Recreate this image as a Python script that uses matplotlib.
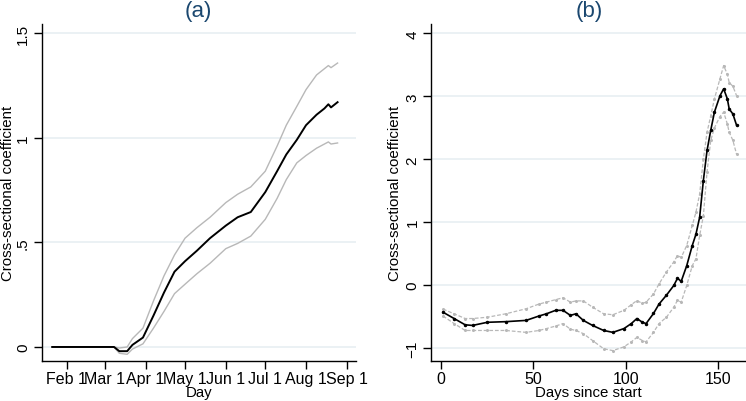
import numpy as np
import matplotlib.pyplot as plt
import pandas as pd

plt.rcParams['font.family'] = ['Liberation Sans', 'DejaVu Sans']

# Panel (a): coefficient by calendar day (2020)
dates_a = ['2020-01-21', '2020-03-08', '2020-03-12', '2020-03-18', '2020-03-22',
           '2020-03-30', '2020-04-07', '2020-04-15', '2020-04-23', '2020-05-01',
           '2020-05-10', '2020-05-20', '2020-06-01', '2020-06-10', '2020-06-20',
           '2020-07-01', '2020-07-10', '2020-07-17', '2020-07-25', '2020-08-01',
           '2020-08-09', '2020-08-15', '2020-08-18', '2020-08-20', '2020-08-25']
coef_a = [0, 0, -0.02, -0.02, 0.01, 0.045, 0.15, 0.26, 0.36, 0.41,
          0.46, 0.52, 0.58, 0.62, 0.645, 0.74, 0.84, 0.92, 0.99, 1.06,
          1.11, 1.14, 1.16, 1.145, 1.17]
upper_a = [0, 0, -0.005, 0.0, 0.04, 0.09, 0.22, 0.34, 0.44, 0.52,
           0.57, 0.62, 0.69, 0.73, 0.765, 0.84, 0.96, 1.06, 1.15, 1.23,
           1.30, 1.33, 1.345, 1.335, 1.357]
lower_a = [0, 0, -0.03, -0.035, -0.01, 0.015, 0.09, 0.17, 0.255, 0.30,
           0.35, 0.40, 0.47, 0.495, 0.53, 0.61, 0.71, 0.80, 0.88, 0.915,
           0.95, 0.97, 0.98, 0.97, 0.975]
tick_dates_a = ['2020-02-01', '2020-03-01', '2020-04-01', '2020-05-01',
                '2020-06-01', '2020-07-01', '2020-08-01', '2020-09-01']
tick_labels_a = ['Feb 1', 'Mar 1', 'Apr 1', 'May 1', 'Jun 1', 'Jul 1', 'Aug 1', 'Sep 1']
yticks_a = [0, 0.5, 1, 1.5]
ylabels_a = ['0', '.5', '1', '1.5']

# Panel (b): coefficient by days since start
days_b = [1, 7, 13, 17, 25, 35, 46, 53, 57, 62, 66, 70, 73, 77, 82, 88, 93, 99,
          103, 106, 109, 111, 115, 118, 122, 126, 128, 130, 133, 136, 138, 140,
          142, 144, 146, 148, 151, 153, 155, 156, 158, 160]
coef_b = [-0.43, -0.53, -0.63, -0.64, -0.59, -0.58, -0.56, -0.49, -0.455, -0.40,
          -0.40, -0.48, -0.455, -0.56, -0.64, -0.72, -0.75, -0.69, -0.61, -0.53,
          -0.59, -0.61, -0.45, -0.30, -0.16, -0.005, 0.11, 0.06, 0.31, 0.63,
          0.81, 1.08, 1.66, 2.14, 2.46, 2.75, 3.01, 3.12, 2.96, 2.80, 2.72, 2.54]
upper_b = [-0.38, -0.455, -0.53, -0.53, -0.51, -0.455, -0.375, -0.30, -0.27, -0.23,
           -0.20, -0.27, -0.25, -0.25, -0.35, -0.455, -0.47, -0.40, -0.31, -0.245,
           -0.29, -0.27, -0.14, 0.02, 0.21, 0.37, 0.47, 0.44, 0.63, 0.95,
           1.16, 1.45, 2.0, 2.43, 2.69, 2.96, 3.28, 3.49, 3.35, 3.22, 3.16, 3.01]
lower_b = [-0.49, -0.61, -0.72, -0.72, -0.72, -0.72, -0.75, -0.72, -0.69, -0.65,
           -0.61, -0.70, -0.72, -0.77, -0.88, -1.01, -1.04, -0.98, -0.90, -0.83,
           -0.88, -0.90, -0.75, -0.61, -0.51, -0.35, -0.24, -0.27, -0.005, 0.31,
           0.42, 0.79, 1.1, 1.8, 2.3, 2.5, 2.68, 2.75, 2.56, 2.43, 2.30, 2.08]
xticks_b = [0, 50, 100, 150]
yticks_b = [-1, 0, 1, 2, 3, 4]

TITLE_COLOR = '#1a476f'
GRID_COLOR = '#e6eef1'
BAND_COLOR = '#b8b8b8'
XTICK_FS = 11.5
YTICK_FS = 11
LABEL_FS = 10.8


def style_axes(ax, ylabel_x):
    for side in ['top', 'right']:
        ax.spines[side].set_visible(False)
    for side in ['left', 'bottom']:
        ax.spines[side].set_linewidth(1.0)
        ax.spines[side].set_color('black')
    ax.tick_params(direction='out', length=5.5, width=1)
    ax.tick_params(axis='x', labelsize=XTICK_FS, pad=2)
    ax.tick_params(axis='y', labelsize=YTICK_FS, labelrotation=90, pad=3)
    for lab in ax.get_yticklabels():
        lab.set_va('center')
    ax.yaxis.grid(True, color=GRID_COLOR, linewidth=1.1)
    ax.set_axisbelow(True)
    ax.set_ylabel('Cross-sectional coefficient', fontsize=LABEL_FS)
    # label anchor is its right edge once rotated
    ax.yaxis.set_label_coords(ylabel_x, 0.5)


fig = plt.figure(figsize=(7.46, 4.02), dpi=100)

# (a)
ax1 = fig.add_axes([0.0559, 0.0995, 0.4213, 0.838])
x_a = pd.to_datetime(dates_a)
ax1.plot(x_a, upper_a, color=BAND_COLOR, linewidth=1.0)
ax1.plot(x_a, lower_a, color=BAND_COLOR, linewidth=1.0)
ax1.plot(x_a, coef_a, color='black', linewidth=1.4)
ax1.set_xlim(pd.Timestamp('2020-01-13'), pd.Timestamp('2020-09-08'))
ax1.set_ylim(-0.067, 1.543)
ax1.set_xticks(pd.to_datetime(tick_dates_a))
ax1.set_xticklabels(tick_labels_a)
ax1.set_yticks(yticks_a)
ax1.set_yticklabels(ylabels_a)
style_axes(ax1, -0.085)
ax1.set_xlabel('Day', fontsize=LABEL_FS, labelpad=-1)

# (b)
ax2 = fig.add_axes([0.578, 0.1003, 0.422, 0.8375])
ax2.plot(days_b, upper_b, color=BAND_COLOR, linewidth=0.9, linestyle=(0, (3, 1.5)),
         marker='o', markersize=1.2)
ax2.plot(days_b, lower_b, color=BAND_COLOR, linewidth=0.9, linestyle=(0, (3, 1.5)),
         marker='o', markersize=1.2)
ax2.plot(days_b, coef_b, color='black', linewidth=1.2, marker='o', markersize=1.5)
ax2.set_xlim(-5.4, 165.1)
ax2.set_ylim(-1.2, 4.15)
ax2.set_xticks(xticks_b)
ax2.set_yticks(yticks_b)
style_axes(ax2, -0.093)
ax2.set_xlabel('Days since start', fontsize=LABEL_FS, labelpad=-1)

fig.text(198 / 746, 1 - 12 / 402, '(a)', color=TITLE_COLOR, fontsize=16,
         ha='center', va='center')
fig.text(589 / 746, 1 - 12 / 402, '(b)', color=TITLE_COLOR, fontsize=16,
         ha='center', va='center')

fig.savefig('out.png', dpi=100)
